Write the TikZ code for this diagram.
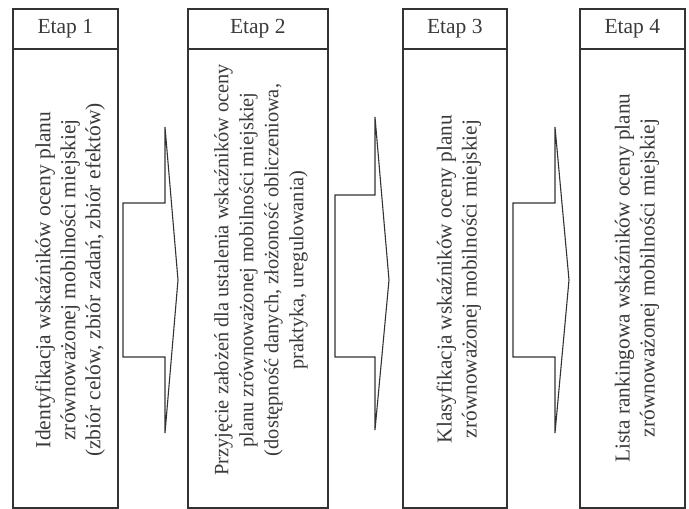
\documentclass[tikz,border=0pt]{standalone}
\usepackage{fontspec}
\setmainfont{Liberation Serif}
\definecolor{ink}{HTML}{333333}
\definecolor{txt}{HTML}{3A3A3A}
\begin{document}
\begin{tikzpicture}[x=1pt,y=-1pt,
  box/.style={draw=ink,line width=1.6pt,inner sep=0pt,minimum width=#1,anchor=north west},
  hdr/.style={box=#1,minimum height=40pt,text=txt,font=\fontsize{21.5}{25}\selectfont},
  body/.style={box=#1,minimum height=459pt},
  vtext/.style={rotate=90,align=center,text=txt,inner sep=0pt,font=\fontsize{#1}{25}\selectfont},
  blk/.style={draw=ink,line width=1.1pt,line join=miter}]
\useasboundingbox (0,0) rectangle (689,509);
% stage 1
\node[hdr=105pt] (h1) at (12,8) {Etap 1};
\node[body=105pt] (b1) at (12,48) {};
\node[vtext=21.5] (t1) at (70,280) {Identyfikacja wskaźników oceny planu\\zrównoważonej mobilności miejskiej\\(zbiór celów, zbiór zadań, zbiór efektów)};
% stage 2
\node[hdr=140pt] (h2) at (187,8) {Etap 2};
\node[body=140pt] (b2) at (187,48) {};
\node[vtext=20.4] (t2) at (261,270) {Przyjęcie założeń dla ustalenia wskaźników oceny\\planu zrównoważonej mobilności miejskiej\\(dostępność danych, złożoność obliczeniowa,\\praktyka, uregulowania)};
% stage 3
\node[hdr=104pt] (h3) at (402,8) {Etap 3};
\node[body=104pt] (b3) at (402,48) {};
\node[vtext=21.3] (t3) at (459,279) {Klasyfikacja wskaźników oceny planu\\zrównoważonej mobilności miejskiej};
% stage 4
\node[hdr=105pt] (h4) at (579,8) {Etap 4};
\node[body=105pt] (b4) at (579,48) {};
\node[vtext=21.3] (t4) at (637,278) {Lista rankingowa wskaźników oceny planu\\zrównoważonej mobilności miejskiej};
% block arrows
\draw[blk] (123,203) -- (165,203) -- (165,127) -- (178,280) -- (165,433) -- (165,357) -- (123,357) -- cycle;
\draw[blk] (335,195) -- (375,195) -- (375,117) -- (389,280) -- (375,430) -- (375,357) -- (335,357) -- cycle;
\draw[blk] (513,203) -- (555,203) -- (555,127) -- (569,280) -- (555,433) -- (555,357) -- (513,357) -- cycle;
\end{tikzpicture}
\end{document}
